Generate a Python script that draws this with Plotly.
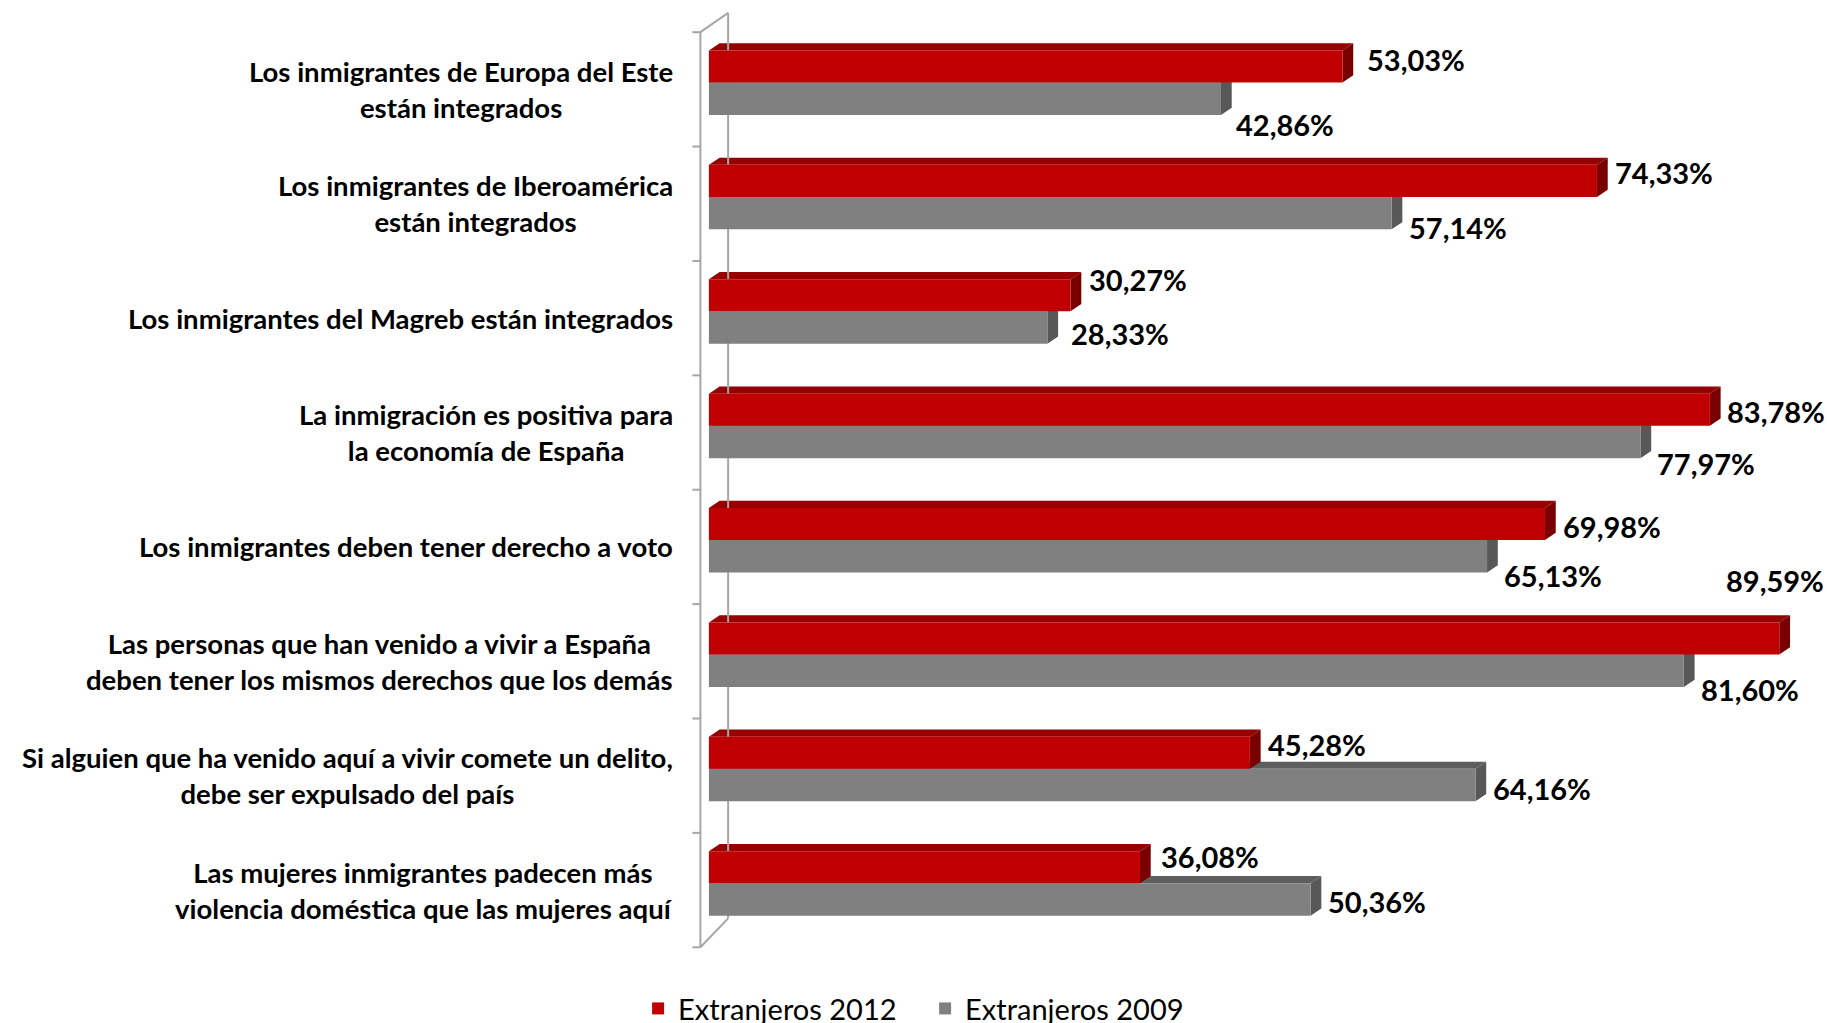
import plotly.graph_objects as go

# ---- data -------------------------------------------------------------
categories = [
    "Los inmigrantes de Europa del Este<br>están integrados",
    "Los inmigrantes de Iberoamérica<br>están integrados",
    "Los inmigrantes del Magreb están integrados",
    "La inmigración es positiva para<br>la economía de España",
    "Los inmigrantes deben tener derecho a voto",
    "Las personas que han venido a vivir a España<br>deben tener los mismos derechos que los demás",
    "Si alguien que ha venido aquí a vivir comete un delito,<br>debe ser expulsado del país",
    "Las mujeres inmigrantes padecen más<br>violencia doméstica que las mujeres aquí",
]
extranjeros_2012 = [53.03, 74.33, 30.27, 83.78, 69.98, 89.59, 45.28, 36.08]
extranjeros_2009 = [42.86, 57.14, 28.33, 77.97, 65.13, 81.60, 64.16, 50.36]
series_names = ["Extranjeros 2012", "Extranjeros 2009"]

# ---- styling / layout -------------------------------------------------
W, H = 1827, 1023
FONT = "Lato"

RED, RED_TOP, RED_SIDE = "#C00000", "#960000", "#7A0000"
GRAY, GRAY_TOP, GRAY_SIDE = "#808080", "#5E5E5E", "#585858"
WALL = "#A6A6A6"

# pixel mapping of the plotting area
ZERO_PX, PX_PER_PCT = 708.5, 11.95
CAT0_PX, BAND_PX = 89.2, 114.4
X_MIN, X_MAX = -2.0, 93.5
Y_TOP, Y_BOT = -0.72, 7.55

# bar geometry (category units) and pseudo-3D depth
RED_OFF, RED_W = -0.34, 0.28
GRAY_OFF, GRAY_W = -0.06, 0.284
DX, DY = 0.9, 0.063

# label nudges (px): (xshift, yshift)
red_label_shift = [(23, 7), (16, 8), (16, 16), (15, -2), (15.6, -2), (-55, 58), (16, 8), (18.7, 10.7)]
gray_label_shift = [(13, -26), (15, -14), (21.6, -6), (14.5, -22), (15.3, -19), (15.4, -19), (15.3, -3.5), (15.9, -2.5)]

n = len(categories)
ypos = list(range(n))


def fmt(v):
    return f"{v:.2f}".replace(".", ",") + "%"


fig = go.Figure()
fig.add_trace(go.Bar(
    orientation="h", x=extranjeros_2009, y=ypos, width=GRAY_W, offset=GRAY_OFF,
    marker=dict(color=GRAY, line=dict(width=0)), name=series_names[1],
    legendrank=2,
))
fig.add_trace(go.Bar(
    orientation="h", x=extranjeros_2012, y=ypos, width=RED_W, offset=RED_OFF,
    marker=dict(color=RED, line=dict(width=0)), name=series_names[0],
    legendrank=1,
))

shapes = []


def poly(pts, color):
    d = "M " + " L ".join(f"{x},{y}" for x, y in pts) + " Z"
    return dict(type="path", path=d, xref="x", yref="y", layer="below",
                fillcolor=color, line=dict(width=0))


# top and side faces: gray first, then red so red sits in front
for i in ypos:
    g = extranjeros_2009[i]
    y0, y1 = i + GRAY_OFF, i + GRAY_OFF + GRAY_W
    shapes.append(poly([(0, y0), (g, y0), (g + DX, y0 - DY), (DX, y0 - DY)], GRAY_TOP))
    shapes.append(poly([(g, y0), (g + DX, y0 - DY), (g + DX, y1 - DY), (g, y1)], GRAY_SIDE))
for i in ypos:
    r = extranjeros_2012[i]
    y0, y1 = i + RED_OFF, i + RED_OFF + RED_W
    shapes.append(poly([(0, y0), (r, y0), (r + DX, y0 - DY), (DX, y0 - DY)], RED_TOP))
    shapes.append(poly([(r, y0), (r + DX, y0 - DY), (r + DX, y1 - DY), (r, y1)], RED_SIDE))

# the side wall of the category axis
front_x, back_x, tick_x = -0.71, 1.61, -1.38
top_y, back_top_y = -0.5, -0.669
bot_y, back_bot_y = n - 0.5, n - 0.753
wall_lines = [
    (front_x, top_y, front_x, bot_y),
    (back_x, back_top_y, back_x, back_bot_y),
    (front_x, top_y, back_x, back_top_y),
    (front_x, bot_y, back_x, back_bot_y),
]
for k in range(n + 1):
    wall_lines.append((tick_x, k - 0.5, front_x, k - 0.5))
for x0, y0, x1, y1 in wall_lines:
    shapes.append(dict(type="line", xref="x", yref="y", x0=x0, y0=y0, x1=x1, y1=y1,
                       layer="below", line=dict(color=WALL, width=2)))

annotations = []
# category labels
for i, lab in enumerate(categories):
    annotations.append(dict(
        text=lab, xref="paper", yref="y", x=0, y=i, xanchor="right", yanchor="middle",
        xshift=-10, align="center", showarrow=False,
        font=dict(family=FONT, size=27.5, color="black", weight="bold"),
    ))
# value labels
for i in ypos:
    r, g = extranjeros_2012[i], extranjeros_2009[i]
    xs, ys = red_label_shift[i]
    annotations.append(dict(
        text=fmt(r), xref="x", yref="y", x=r, y=i + RED_OFF + RED_W / 2,
        xanchor="left", yanchor="middle", xshift=xs, yshift=ys, showarrow=False,
        font=dict(family=FONT, size=29, color="black", weight="bold"),
    ))
    xs, ys = gray_label_shift[i]
    annotations.append(dict(
        text=fmt(g), xref="x", yref="y", x=g, y=i + GRAY_OFF + GRAY_W / 2,
        xanchor="left", yanchor="middle", xshift=xs, yshift=ys, showarrow=False,
        font=dict(family=FONT, size=29, color="black", weight="bold"),
    ))

left = ZERO_PX + X_MIN * PX_PER_PCT
right = W - (ZERO_PX + X_MAX * PX_PER_PCT)
top = CAT0_PX + Y_TOP * BAND_PX
bottom = H - (CAT0_PX + Y_BOT * BAND_PX)
plot_h = H - top - bottom

fig.update_layout(
    width=W, height=H,
    margin=dict(l=left, r=right, t=top, b=bottom, pad=0, autoexpand=False),
    paper_bgcolor="white", plot_bgcolor="white",
    barmode="overlay",
    xaxis=dict(range=[X_MIN, X_MAX], visible=False),
    yaxis=dict(range=[Y_BOT, Y_TOP], visible=False),
    shapes=shapes, annotations=annotations,
    showlegend=True,
    legend=dict(
        orientation="h", x=(637.7 - left) / (W - left - right), xanchor="left",
        y=-(983 - (H - bottom)) / plot_h, yanchor="top",
        entrywidth=242, entrywidthmode="pixels",
        font=dict(family=FONT, size=29, color="black"),
        traceorder="normal", bgcolor="rgba(0,0,0,0)",
    ),
)

fig.write_html("out.html")
